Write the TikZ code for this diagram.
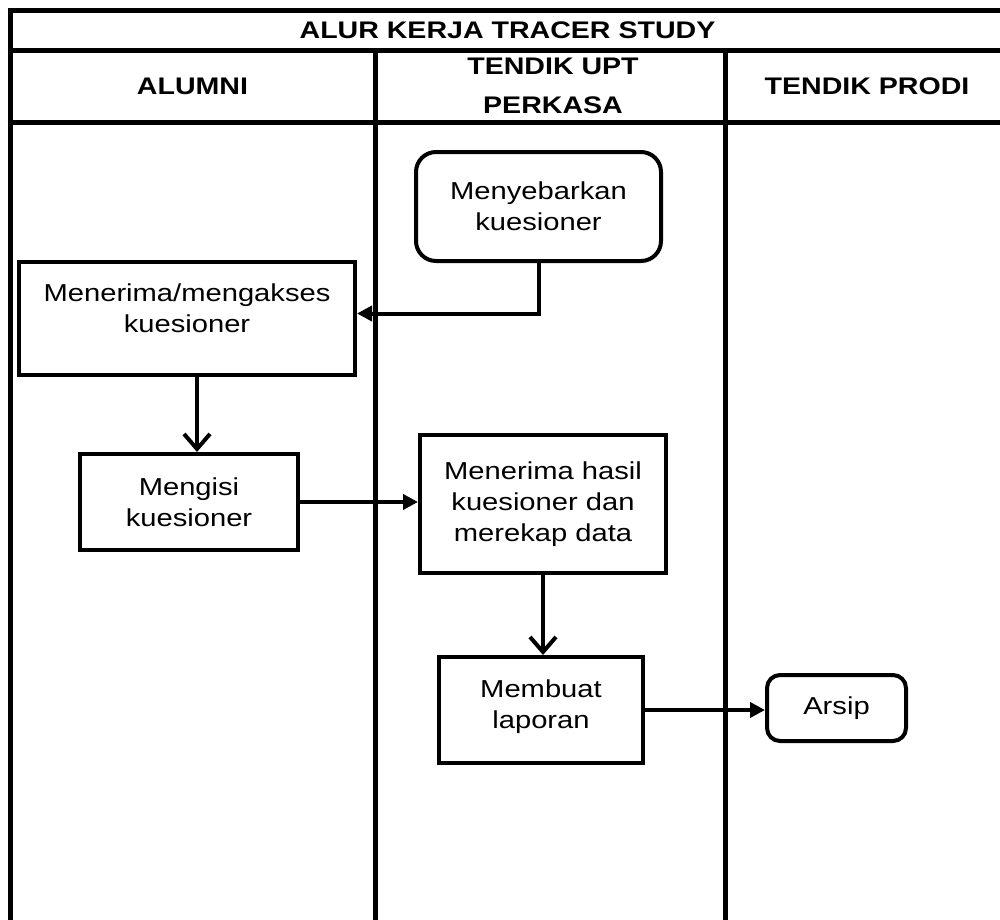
\documentclass[tikz,border=0pt]{standalone}
\usepackage{fontspec}
\setmainfont{Liberation Sans}[FakeStretch=1.19]
\usetikzlibrary{arrows.meta}

\begin{document}
\begin{tikzpicture}[x=1pt, y=-1pt,
    every node/.style={font=\fontsize{24.5}{31}\selectfont, align=center},
    kepala/.style={font=\fontsize{24}{39}\selectfont\bfseries},
    kotak/.style={draw, line width=4pt, inner sep=0pt},
    bulat/.style={kotak, rounded corners=20pt},
    panah/.style={line width=4pt, -{Triangle[length=15pt,width=15pt]}},
    panahv/.style={line width=4pt, -{Straight Barb[length=15pt,width=26pt]}}]
  % tabel alur kerja
    \useasboundingbox (0,0) rectangle (1000,919);
    \def\garis{5pt}

    \draw[line width=\garis] (7.5,10) -- (1010,10);
    \draw[line width=\garis] (7.5,50) -- (1010,50);
    \draw[line width=\garis] (7.5,122) -- (1010,122);
    \draw[line width=\garis] (10,7.5) -- (10,925);
    \draw[line width=\garis] (375,50) -- (375,925);
    \draw[line width=\garis] (725,50) -- (725,925);

    \node[kepala] (judul) at (507.5,30) {ALUR KERJA TRACER STUDY};
    \node[kepala] (alumni) at (192.5,86) {ALUMNI};
    \node[kepala] (upt) at (553,86) {TENDIK UPT\\PERKASA};
    \node[kepala] (prodi) at (867,86) {TENDIK PRODI};

    \node[bulat, minimum width=245pt, minimum height=109pt] (sebar) at (538.5,206.5) {Menyebarkan\\kuesioner};
    \node[kotak, minimum width=336pt, minimum height=113pt] (akses) at (187,318.5) {Menerima/mengakses\\kuesioner\\[-11pt]};
    \node[kotak, minimum width=218pt, minimum height=96pt] (isi) at (189,502) {Mengisi\\kuesioner};
    \node[kotak, minimum width=246pt, minimum height=138pt] (rekap) at (543,504) {Menerima hasil\\kuesioner dan\\merekap data};
    \node[kotak, minimum width=204pt, minimum height=106pt] (laporan) at (541,710) {Membuat\\laporan\\[-19pt]};
    \node[bulat, rounded corners=13pt, minimum width=139pt, minimum height=66pt] (arsip) at (836.5,708) {Arsip};

    \draw[panah] (sebar.south) |- ([yshift=5pt]akses.east);
    \draw[panahv] ([xshift=10pt]akses.south) -- ([xshift=10pt]akses.south |- isi.north);
    \draw[panah] (isi.east) -- (isi.east -| rekap.west);
    \draw[panahv] (rekap.south) -- (rekap.south |- laporan.north);
    \draw[panah] (laporan.east) -- (laporan.east -| arsip.west);
\end{tikzpicture}
\end{document}
